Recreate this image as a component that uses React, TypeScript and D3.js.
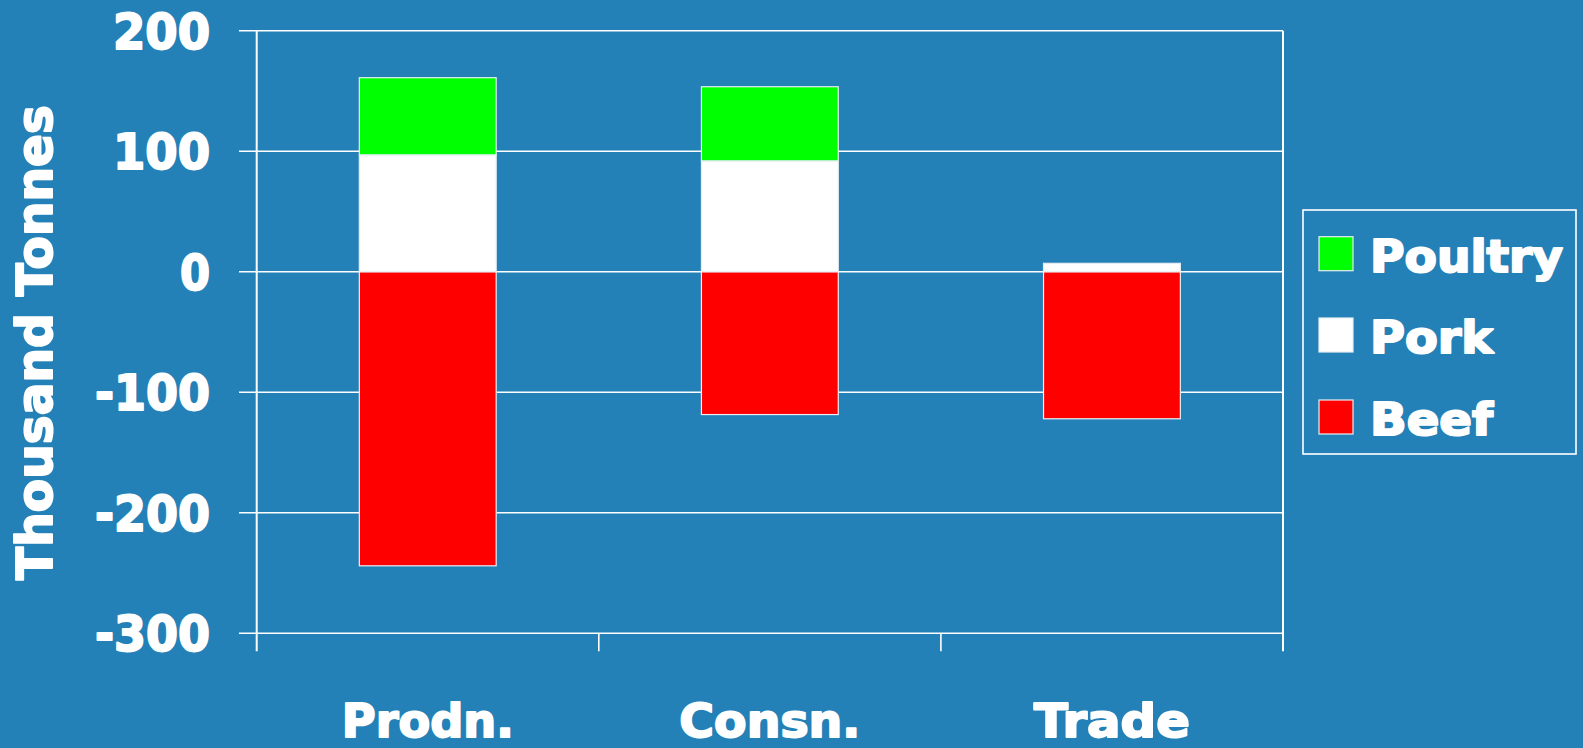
import React from "react";
import * as d3 from "d3";

const categories = ["Prodn.", "Consn.", "Trade"];
const beef = [-244, -118.5, -122];
const pork = [97, 92, 7];
const poultry = [64, 61.5, 0];
const yTicks = [200, 100, 0, -100, -200, -300];
const legendOrder = ["Poultry", "Pork", "Beef"];

const colors: Record<string, string> = { Beef: "#FF0000", Pork: "#FFFFFF", Poultry: "#00FF00" };
const BG = "#2381B7";
const FONT = "'DejaVu Sans', sans-serif";

export default function App() {
  const W = 1583, H = 748;
  const left = 256.7, right = 1283, top = 30.7, bottom = 633.3;
  const y = d3.scaleLinear().domain([-300, 200]).range([bottom, top]);
  const x = d3.scaleBand<string>().domain(categories).range([left, right]).paddingInner(0).paddingOuter(0);
  const bw = x.bandwidth();

  const segs: { cat: string; name: string; y0: number; y1: number }[] = [];
  categories.forEach((c, i) => {
    segs.push({ cat: c, name: "Beef", y0: 0, y1: beef[i] });
    segs.push({ cat: c, name: "Pork", y0: 0, y1: pork[i] });
    if (poultry[i] > 0) segs.push({ cat: c, name: "Poultry", y0: pork[i], y1: pork[i] + poultry[i] });
  });

  const catLabelW: Record<string, number> = { "Prodn.": 172, "Consn.": 181, Trade: 156 };
  const legendW: Record<string, number> = { Poultry: 193, Pork: 123, Beef: 123 };
  const legendSwatchY: Record<string, number> = { Poultry: 236.7, Pork: 318, Beef: 400 };

  const txt = { fill: "#fff", fontFamily: FONT, fontWeight: 700 as const, stroke: "#fff", strokeWidth: 2, strokeLinejoin: "round" as const };

  return (
    <svg width={W} height={H} style={{ position: "absolute", left: 0, top: 0, background: BG }}>
      <rect x={0} y={0} width={W} height={H} fill={BG} />
      {yTicks.map((t) => (
        <line key={"g" + t} x1={239} x2={right} y1={y(t)} y2={y(t)} stroke="#fff" strokeWidth={1.6} />
      ))}
      <line x1={left} x2={left} y1={top} y2={bottom + 18} stroke="#fff" strokeWidth={2} />
      <line x1={right} x2={right} y1={top} y2={bottom + 18} stroke="#fff" strokeWidth={2} />
      {categories.slice(1).map((c) => (
        <line key={"xt" + c} x1={x(c)!} x2={x(c)!} y1={bottom} y2={bottom + 18} stroke="#fff" strokeWidth={1.6} />
      ))}
      {segs.map((s, i) => {
        const bx = x(s.cat)! + bw * 0.3;
        const ya = y(Math.max(s.y0, s.y1));
        const yb = y(Math.min(s.y0, s.y1));
        return (
          <rect key={i} x={bx} y={ya} width={bw * 0.4} height={yb - ya}
            fill={colors[s.name]} stroke="#e8eef4" strokeWidth={1.2} />
        );
      })}
      {yTicks.map((t) => (
        <text key={"yl" + t} x={210} y={y(t) + 18} textAnchor="end" fontSize={49}
          textLength={String(t).length === 1 ? 30 : t < 0 ? 115 : 97} lengthAdjust="spacingAndGlyphs" {...txt}>
          {t}
        </text>
      ))}
      <text transform={`translate(51.5, ${(105 + 580) / 2}) rotate(-90)`} textAnchor="middle"
        fontSize={50} textLength={475} lengthAdjust="spacingAndGlyphs" {...txt}>
        Thousand Tonnes
      </text>
      {categories.map((c) => (
        <text key={"cl" + c} x={x(c)! + bw / 2} y={737} textAnchor="middle" fontSize={47}
          textLength={catLabelW[c]} lengthAdjust="spacingAndGlyphs" {...txt}>
          {c}
        </text>
      ))}
      <rect x={1303} y={210} width={273} height={244} fill="none" stroke="#fff" strokeWidth={1.6} />
      {legendOrder.map((n) => (
        <g key={"lg" + n}>
          <rect x={1319} y={legendSwatchY[n]} width={34} height={34} fill={colors[n]} stroke="#e8eef4" strokeWidth={1.2} />
          <text x={1370} y={legendSwatchY[n] + 35} fontSize={44} textLength={legendW[n]}
            lengthAdjust="spacingAndGlyphs" {...txt}>
            {n}
          </text>
        </g>
      ))}
    </svg>
  );
}
